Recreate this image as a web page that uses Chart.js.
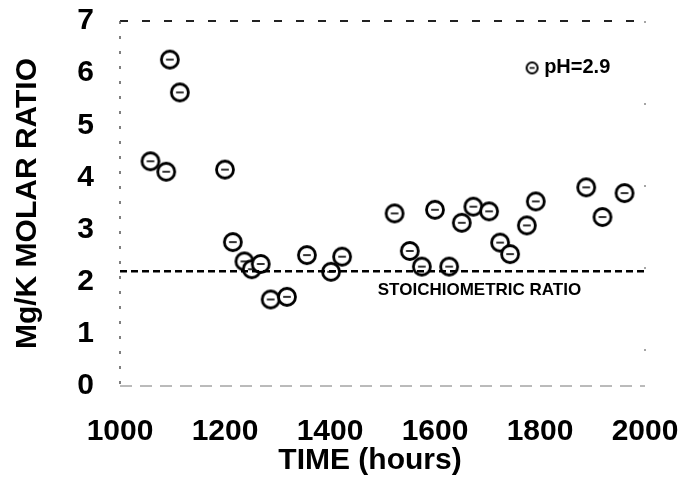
<!DOCTYPE html>
<html>
<head>
<meta charset="utf-8">
<script src="https://cdn.jsdelivr.net/npm/chart.js@4.4.0/dist/chart.umd.min.js"></script>
<style>
  html, body { margin: 0; padding: 0; background: #fff; }
</style>
</head>
<body>
<canvas id="myChart" width="680" height="483"></canvas>
<script>
// time (hours)
var timeHours = [1058, 1088, 1095, 1114, 1200, 1215, 1237, 1251, 1268, 1287, 1318, 1356, 1402, 1423,
                 1523, 1552, 1575, 1600, 1627, 1651, 1673, 1703, 1724, 1743, 1775, 1792, 1888, 1919, 1961];
// Mg/K molar ratio, pH=2.9
var ratioPH29 = [4.31, 4.11, 6.26, 5.63, 4.15, 2.76, 2.39, 2.24, 2.34, 1.66, 1.71, 2.51, 2.19, 2.48,
                 3.31, 2.59, 2.29, 3.38, 2.29, 3.13, 3.44, 3.35, 2.75, 2.53, 3.08, 3.54, 3.81, 3.24, 3.70];
// stoichiometric ratio line
var stoichTime = [1000, 2000];
var stoichRatio = [2.2, 2.2];

var FONT = "'Liberation Sans', Arial, sans-serif";

function makeMarker(r, lw) {
    var c = document.createElement("canvas");
    var s = Math.ceil(2 * r + lw + 2);
    c.width = s; c.height = s;
    var g = c.getContext("2d");
    g.beginPath();
    g.arc(s / 2, s / 2, r, 0, 2 * Math.PI);
    g.fillStyle = "#fff";
    g.fill();
    g.lineWidth = lw;
    g.strokeStyle = "#000";
    g.stroke();
    g.beginPath();
    g.moveTo(s / 2 - r * 0.45, s / 2);
    g.lineTo(s / 2 + r * 0.45, s / 2);
    g.lineWidth = 1.6;
    g.stroke();
    return c;
}
var marker = makeMarker(8.5, 2.8);
var legendMarker = makeMarker(5.5, 2);

// broken (scanned-looking) frame round the plot
var framePlugin = {
    id: "frame",
    beforeDatasetsDraw: function (chart) {
        var c = chart.ctx, a = chart.chartArea;
        function seg(x1, y1, x2, y2, w, col, dash) {
            c.save();
            c.lineWidth = w;
            c.strokeStyle = col;
            c.setLineDash(dash);
            c.beginPath();
            c.moveTo(x1, y1);
            c.lineTo(x2, y2);
            c.stroke();
            c.restore();
        }
        seg(a.left, a.top, a.right, a.top, 2, "#222", [8, 14]);
        seg(a.left, a.top, a.left, a.bottom, 1.5, "#555", [3, 12]);
        seg(a.left, a.bottom, a.right, a.bottom, 1, "#777", [12, 8]);
        seg(a.right, a.top, a.right, a.bottom, 1.5, "#888", [2, 80]);
    }
};

// text inside the plot: stoichiometric label and legend
var labelsPlugin = {
    id: "labels",
    afterDraw: function (chart) {
        var c = chart.ctx, xs = chart.scales.x, ys = chart.scales.y;
        c.save();
        c.fillStyle = "#000";
        c.textBaseline = "middle";
        c.textAlign = "left";
        c.font = "bold 17px " + FONT;
        c.fillText(chart.data.datasets[0].label, xs.getPixelForValue(1491), ys.getPixelForValue(1.84));
        var lx = xs.getPixelForValue(1785), ly = ys.getPixelForValue(6.1);
        c.drawImage(legendMarker, lx - legendMarker.width / 2, ly - legendMarker.height / 2);
        c.font = "bold 20px " + FONT;
        c.fillText(chart.data.datasets[1].label, lx + 12, ly);
        c.restore();
    }
};

var ctx = document.getElementById("myChart").getContext("2d");
var myChart = new Chart(ctx, {
    type: "scatter",
    data: {
        datasets: [{
            label: "STOICHIOMETRIC RATIO",
            data: stoichTime.map(function (t, i) { return { x: t, y: stoichRatio[i] }; }),
            showLine: true,
            borderColor: "#000",
            borderWidth: 2.5,
            borderDash: [7, 4],
            pointRadius: 0
        },
        {
            label: "pH=2.9",
            data: timeHours.map(function (t, i) { return { x: t, y: ratioPH29[i] }; }),
            pointStyle: marker,
            pointRadius: 9
        }]
    },
    options: {
        responsive: false,
        animation: false,
        layout: { padding: { top: 0, right: 35, left: 0, bottom: 0 } },
        plugins: { legend: { display: false }, tooltip: { enabled: false } },
        scales: {
            x: {
                type: "linear", min: 1000, max: 2000,
                afterFit: function (s) { s.height = 97; s.paddingLeft = 0; s.paddingRight = 0; },
                grid: { display: false, drawTicks: false },
                border: { display: false },
                ticks: { stepSize: 200, padding: 28, color: "#000", maxRotation: 0, autoSkip: false,
                         callback: function (v) { return String(v); },
                         font: { family: FONT, size: 30, weight: "bold" } },
                title: { display: true, text: "TIME (hours)   ", color: "#000",
                         font: { family: FONT, size: 30, weight: "bold" }, padding: { top: 0, bottom: 4 } }
            },
            y: {
                min: 0, max: 7,
                afterFit: function (s) { s.width = 120; s.paddingTop = 21; s.paddingBottom = 0; },
                grid: { display: false, drawTicks: false },
                border: { display: false },
                ticks: { stepSize: 1, padding: 26, color: "#000",
                         font: { family: FONT, size: 30, weight: "bold" } },
                title: { display: true, text: "Mg/K MOLAR RATIO", color: "#000",
                         font: { family: FONT, size: 30, weight: "bold" }, padding: { top: 10, bottom: 0 } }
            }
        }
    },
    plugins: [framePlugin, labelsPlugin]
});
</script>
</body>
</html>
